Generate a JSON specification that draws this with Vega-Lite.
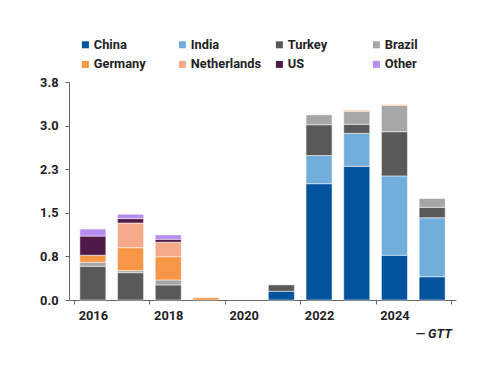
{
  "$schema": "https://vega.github.io/schema/vega-lite/v6.json",
  "autosize": {"type": "none"},
  "padding": {"left": 69, "top": 82, "right": 44, "bottom": 86},
  "width": 387,
  "height": 218,
  "background": "white",
  "title": {"text": "— GTT", "orient": "bottom", "anchor": "end", "font": "Roboto", "fontSize": 12.8, "fontWeight": "bold", "fontStyle": "italic", "color": "#222222", "offset": 6, "dx": -4},
  "config": {"view": {"stroke": null}},
  "data": {"values": [
    {"year": 2016, "country": "Turkey", "value": 0.58},
    {"year": 2016, "country": "Brazil", "value": 0.07},
    {"year": 2016, "country": "Germany", "value": 0.12},
    {"year": 2016, "country": "US", "value": 0.33},
    {"year": 2016, "country": "Other", "value": 0.12},
    {"year": 2017, "country": "Turkey", "value": 0.47},
    {"year": 2017, "country": "Brazil", "value": 0.035},
    {"year": 2017, "country": "Germany", "value": 0.395},
    {"year": 2017, "country": "Netherlands", "value": 0.425},
    {"year": 2017, "country": "US", "value": 0.075},
    {"year": 2017, "country": "Other", "value": 0.075},
    {"year": 2018, "country": "Turkey", "value": 0.26},
    {"year": 2018, "country": "Brazil", "value": 0.085},
    {"year": 2018, "country": "Germany", "value": 0.4},
    {"year": 2018, "country": "Netherlands", "value": 0.25},
    {"year": 2018, "country": "US", "value": 0.05},
    {"year": 2018, "country": "Other", "value": 0.075},
    {"year": 2019, "country": "Germany", "value": 0.04},
    {"year": 2021, "country": "China", "value": 0.15},
    {"year": 2021, "country": "Turkey", "value": 0.11},
    {"year": 2022, "country": "China", "value": 2.0},
    {"year": 2022, "country": "India", "value": 0.485},
    {"year": 2022, "country": "Turkey", "value": 0.53},
    {"year": 2022, "country": "Brazil", "value": 0.17},
    {"year": 2023, "country": "China", "value": 2.3},
    {"year": 2023, "country": "India", "value": 0.567},
    {"year": 2023, "country": "Turkey", "value": 0.155},
    {"year": 2023, "country": "Brazil", "value": 0.225},
    {"year": 2023, "country": "Germany", "value": 0.015},
    {"year": 2024, "country": "China", "value": 0.77},
    {"year": 2024, "country": "India", "value": 1.365},
    {"year": 2024, "country": "Turkey", "value": 0.76},
    {"year": 2024, "country": "Brazil", "value": 0.45},
    {"year": 2024, "country": "Germany", "value": 0.015},
    {"year": 2025, "country": "China", "value": 0.4},
    {"year": 2025, "country": "India", "value": 1.015},
    {"year": 2025, "country": "Turkey", "value": 0.18},
    {"year": 2025, "country": "Brazil", "value": 0.15}
  ]},
  "transform": [
    {"calculate": "indexof(['China', 'India', 'Turkey', 'Brazil', 'Germany', 'Netherlands', 'US', 'Other'], datum.country)", "as": "stack_rank"}
  ],
  "mark": {"type": "bar", "width": 26, "stroke": "white", "strokeWidth": 0.5},
  "encoding": {
    "x": {
      "field": "year", "type": "quantitative",
      "scale": {"domain": [2015.5, 2025.5], "nice": false, "zero": false},
      "axis": {
        "title": null, "grid": false,
        "values": [2015.5, 2016, 2017.5, 2018, 2019.5, 2020, 2021.5, 2022, 2023.5, 2024, 2025.5],
        "labelExpr": "datum.value % 1 == 0 ? format(datum.value, 'd') : ''",
        "labelOverlap": false,
        "labelFont": "Roboto", "labelFontSize": 12.8, "labelFontWeight": "bold", "labelColor": "#222222",
        "labelPadding": 5,
        "domainColor": "#666666", "domainWidth": 1,
        "tickColor": "#666666", "tickSize": 4, "tickWidth": 1,
        "tickOpacity": {"condition": {"test": "datum.value % 1 == 0", "value": 0}, "value": 1}
      }
    },
    "y": {
      "field": "value", "type": "quantitative", "stack": "zero",
      "scale": {"domain": [0, 3.75], "nice": false},
      "axis": {
        "title": null, "grid": false,
        "values": [0, 0.75, 1.5, 2.25, 3.0, 3.75],
        "format": ".1f",
        "labelFont": "Roboto", "labelFontSize": 12.8, "labelFontWeight": "bold", "labelColor": "#222222",
        "labelPadding": 7,
        "domainColor": "#666666", "domainWidth": 1,
        "tickColor": "#666666", "tickSize": 4, "tickWidth": 1
      }
    },
    "order": {"field": "stack_rank", "type": "quantitative", "sort": "ascending"},
    "color": {
      "field": "country", "type": "nominal",
      "sort": ["China", "India", "Turkey", "Brazil", "Germany", "Netherlands", "US", "Other"],
      "scale": {
        "domain": ["China", "India", "Turkey", "Brazil", "Germany", "Netherlands", "US", "Other"],
        "range": ["#00539C", "#72AEDC", "#595959", "#A6A6A6", "#F79646", "#F4AA88", "#4F1A48", "#B68CF0"]
      },
      "legend": {
        "title": null, "orient": "none", "legendX": 10, "legendY": -44,
        "direction": "horizontal", "columns": 4, "gridAlign": "all",
        "columnPadding": 11, "rowPadding": 6,
        "symbolType": "square", "symbolSize": 49, "symbolStrokeWidth": 0, "symbolOpacity": 1,
        "labelFont": "Roboto", "labelFontSize": 12.8, "labelFontWeight": "bold", "labelColor": "#222222",
        "labelOffset": 2
      }
    }
  }
}
